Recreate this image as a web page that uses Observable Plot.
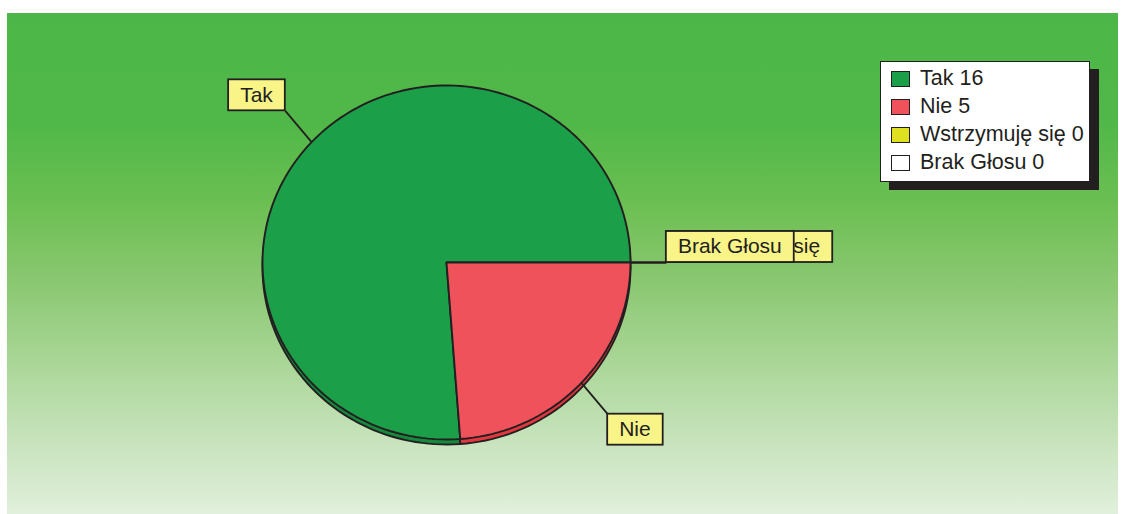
<!DOCTYPE html>
<html>
<head>
<meta charset="utf-8">
<script src="https://cdn.jsdelivr.net/npm/d3@7"></script>
<script src="https://cdn.jsdelivr.net/npm/@observablehq/plot@0.6"></script>
<style>
  html, body { margin: 0; padding: 0; background: #ffffff; }
  #wrap { position: relative; width: 1122px; height: 514px; overflow: hidden; font-family: "Liberation Sans", Arial, sans-serif; }
  #bg { position: absolute; left: 7px; top: 13px; width: 1111px; height: 501px;
        background: linear-gradient(to bottom, #4cb748 0%, #50b848 22%, #6cbf52 38%, #8bc872 54%, #b2daa1 74%, #cce5c2 88%, #e1f0dc 100%); }
  #chart { position: absolute; left: 0; top: 0; }
  #legend { position: absolute; left: 880px; top: 61px; width: 208px; height: 116px;
            background: #ffffff; border: 1.5px solid #231f20; box-shadow: 9px 8px 0 #231f20;
            padding-top: 3px; box-sizing: content-box; }
  .row { height: 28px; display: flex; align-items: center; padding-left: 10px; }
  .sw { width: 17px; height: 14px; border: 1.5px solid #231f20; margin-right: 10px; flex: none; }
  .lt { font-size: 21.5px; color: #231f20; white-space: nowrap; line-height: 1; }
</style>
</head>
<body>
<div id="wrap">
  <div id="bg"></div>
  <div id="chart"></div>
  <div id="legend"></div>
</div>
<script>
// ---- data ----
const categories = ["Tak", "Nie", "Wstrzymuję się", "Brak Głosu"];
const votes = [16, 5, 0, 0];
const topColors = ["#1b9f48", "#ef525a", "#dfe01f", "#ffffff"];
const sideColors = ["#16893d", "#e3373f", "#c8c81a", "#dddddd"];

// ---- layout ----
const W = 1122, H = 514;
const cx = 446, cy = 262, rx = 184, ry = 177;   // pie centre and radii (px)
const depth = 5 / ry;                            // 3D thickness in y units
const ink = "#231f20";
const font = "'Liberation Sans', Arial, sans-serif";

const data = categories.map((name, i) => ({name, value: votes[i], i}));
const arcs = d3.pie().sort(null).value(d => d.value).startAngle(0).endAngle(2 * Math.PI)(data);

function slicePoints(a, dy) {
  const pts = [{x: 0, y: dy}];
  const n = Math.max(2, Math.ceil((a.endAngle - a.startAngle) / (Math.PI / 90)));
  for (let k = 0; k <= n; k++) {
    const t = a.startAngle + (a.endAngle - a.startAngle) * k / n;
    pts.push({x: Math.cos(t), y: Math.sin(t) + dy});
  }
  pts.push({x: 0, y: dy});
  return pts;
}

const nonZero = arcs.filter(a => a.value > 0);
const sideMarks = nonZero.map(a => Plot.line(slicePoints(a, -depth), {
  x: "x", y: "y", fill: sideColors[a.data.i], stroke: ink, strokeWidth: 1.9, strokeLinejoin: "round"
}));
const topMarks = nonZero.map(a => Plot.line(slicePoints(a, 0), {
  x: "x", y: "y", fill: topColors[a.data.i], stroke: ink, strokeWidth: 1.9, strokeLinejoin: "round"
}));

const labels = arcs.map(a => {
  const m = (a.startAngle + a.endAngle) / 2;
  const c = Math.cos(m), s = Math.sin(m);
  return {name: a.data.name, cos: c, sin: s, x1: c, y1: s, x2: c * 1.195, y2: s * 1.26};
});

const measureCtx = document.createElement("canvas").getContext("2d");
measureCtx.font = "21px 'Liberation Sans', Arial, sans-serif";

function labelBoxes(index, scales) {
  const ns = "http://www.w3.org/2000/svg";
  const g = document.createElementNS(ns, "g");
  labels.forEach(l => {
    const px = scales.x(l.x2), py = scales.y(l.y2);
    const w = measureCtx.measureText(l.name).width + 24, h = 31;
    const left = l.cos < -1e-9 ? px - w : px;
    const top = l.sin > -1e-9 ? py - h : py;
    const r = document.createElementNS(ns, "rect");
    r.setAttribute("x", left); r.setAttribute("y", top);
    r.setAttribute("width", w); r.setAttribute("height", h);
    r.setAttribute("fill", "#f8f488"); r.setAttribute("stroke", ink); r.setAttribute("stroke-width", 1.8);
    g.appendChild(r);
    const t = document.createElementNS(ns, "text");
    t.setAttribute("x", left + w / 2); t.setAttribute("y", top + 22.3);
    t.setAttribute("text-anchor", "middle"); t.setAttribute("font-size", 21);
    t.setAttribute("font-family", font); t.setAttribute("fill", ink);
    t.textContent = l.name;
    g.appendChild(t);
  });
  return g;
}

const plot = Plot.plot({
  width: W, height: H,
  margin: 0,
  x: {domain: [-cx / rx, (W - cx) / rx], axis: null},
  y: {domain: [-(H - cy) / ry, cy / ry], axis: null},
  style: {background: "transparent", overflow: "visible", fontFamily: font},
  marks: [
    ...sideMarks,
    ...topMarks,
    Plot.link(labels, {x1: "x1", y1: "y1", x2: "x2", y2: "y2", stroke: ink, strokeWidth: 1.8}),
    labelBoxes
  ]
});
document.getElementById("chart").appendChild(plot);

// legend
const legend = document.getElementById("legend");
data.forEach(d => {
  const row = document.createElement("div");
  row.className = "row";
  const sw = document.createElement("div");
  sw.className = "sw";
  sw.style.background = topColors[d.i];
  const lt = document.createElement("span");
  lt.className = "lt";
  lt.textContent = `${d.name} ${d.value}`;
  row.appendChild(sw); row.appendChild(lt);
  legend.appendChild(row);
});
</script>
</body>
</html>
